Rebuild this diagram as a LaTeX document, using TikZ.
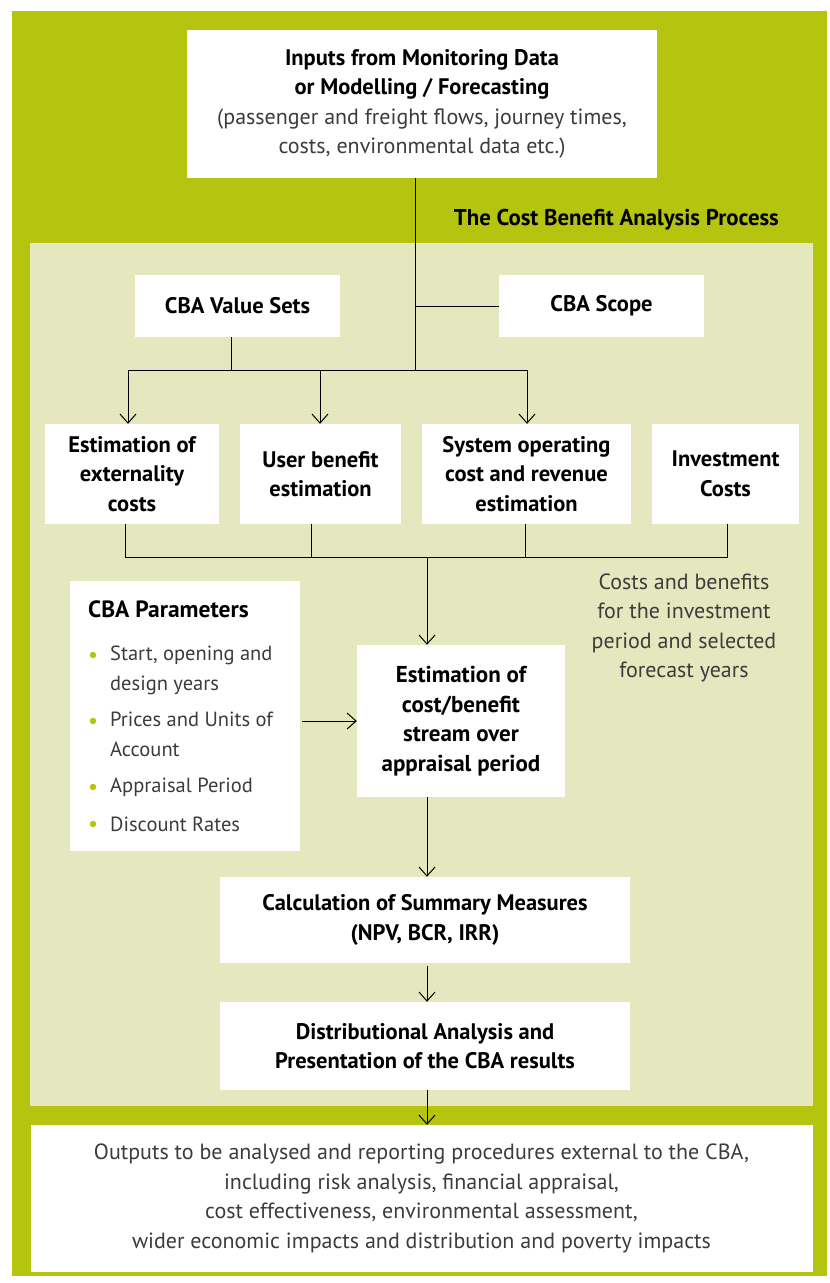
\documentclass[tikz,border=0pt]{standalone}
\usepackage{fontspec}
\setmainfont{PT Sans}
\usetikzlibrary{arrows.meta}
\definecolor{olive}{RGB}{181,196,14}
\definecolor{panel}{RGB}{229,232,190}
\definecolor{softtext}{RGB}{60,60,60}
\begin{document}
\begin{tikzpicture}[x=1pt,y=-1pt,
  box/.style={fill=white, inner sep=0pt, align=center,
    font=\bfseries\fontsize{22.5}{29.5}\selectfont},
  plain/.style={inner sep=0pt, align=center, text=softtext,
    font=\fontsize{22}{29.5}\selectfont},
  itemtext/.style={inner sep=0pt, anchor=west, align=left, text=softtext,
    font=\fontsize{20.5}{29.5}\selectfont},
  bulletdot/.style={circle, fill=olive, inner sep=0pt, minimum size=6.5pt},
  link/.style={draw=black, line width=1pt},
  arr/.style={link, -{Straight Barb[length=9pt,width=16pt,line width=1pt]}}
]
\useasboundingbox (0,0) rectangle (830,1283);
\fill[white] (0,0) rectangle (830,1283);
% frame and process panel
\fill[olive] (12,11) rectangle (827,1276);
\fill[panel] (30,243) rectangle (813,1106);

% inputs
\node[box, minimum width=470, minimum height=148] (inputs) at (422,104)
  {Inputs from Monitoring Data\\or Modelling / Forecasting\\
   {\mdseries\fontsize{22}{29.5}\selectfont\color{softtext}(passenger and freight flows, journey times,}\\
   {\mdseries\fontsize{22}{29.5}\selectfont\color{softtext}costs, environmental data etc.)}};

\node[inner sep=0pt, anchor=east, font=\bfseries\fontsize{22.8}{26}\selectfont]
  (title) at (779,220) {The Cost Benefit Analysis Process};

% value sets and scope
\node[box, minimum width=205, minimum height=62] (vsets) at (237.5,306) {CBA Value Sets};
\node[box, minimum width=205, minimum height=62] (scope) at (601.5,306) {CBA Scope};

% estimation row
\node[box, minimum width=174, minimum height=100] (ext) at (132,474)
  {Estimation of\\externality\\costs};
\node[box, minimum width=161, minimum height=100] (user) at (320.5,474)
  {User benefit\\estimation};
\node[box, minimum width=209, minimum height=100] (sysop) at (526.5,474)
  {System operating\\cost and revenue\\estimation};
\node[box, minimum width=147, minimum height=100] (invest) at (725.5,474)
  {Investment\\Costs};

\node[plain] (note) at (684,628)
  {Costs and benefits\\for the investment\\period and selected\\forecast years};

% parameters
\node[fill=white, inner sep=0pt, minimum width=230, minimum height=270] (params) at (185,716) {};
\node[inner sep=0pt, anchor=west, font=\bfseries\fontsize{23.5}{26}\selectfont]
  (ptitle) at (88,609) {CBA Parameters};
\node[bulletdot] (b1) at (93,655) {};
\node[itemtext, anchor=north west] (i1) at (110,646) {Start, opening and\\design years};
\node[bulletdot] (b2) at (93,721) {};
\node[itemtext, anchor=north west] (i2) at (110,712) {Prices and Units of\\Account};
\node[bulletdot] (b3) at (93,787) {};
\node[itemtext] (i3) at (110,787) {Appraisal Period};
\node[bulletdot] (b4) at (93,824) {};
\node[itemtext] (i4) at (110,824) {Discount Rates};

% stream, measures, distribution, outputs
\node[box, font=\bfseries\fontsize{23}{29.5}\selectfont, minimum width=208, minimum height=152] (est) at (461,721)
  {Estimation of\\cost/benefit\\stream over\\appraisal period};
\node[box, minimum width=410, minimum height=86] (calc) at (425,920)
  {Calculation of Summary Measures\\(NPV, BCR, IRR)};
\node[box, minimum width=410, minimum height=88] (dist) at (425,1046)
  {Distributional Analysis and\\Presentation of the CBA results};
\node[fill=white, plain, minimum width=782, minimum height=147] (out) at (421.5,1198.5)
  {Outputs to be analysed and reporting procedures external to the CBA,\\
   including risk analysis, financial appraisal,\\
   cost effectiveness, environmental assessment,\\
   wider economic impacts and distribution and poverty impacts};

% connectors: upper distribution
\coordinate (trunk) at (415,370);
\coordinate (busL) at (128,370);
\coordinate (busM) at (320,370);
\coordinate (busR) at (527,370);
\draw[link] ([xshift=-7]inputs.south) -- (trunk);
\draw[link] (scope.west) -- (scope.west -| trunk);
\draw[link] ([xshift=-6.5]vsets.south) -- ([xshift=-6.5]vsets.south |- trunk);
\draw[link] (busL) -- (busR);
\draw[arr] (busL) -- (busL |- ext.north);
\draw[arr] (busM) -- (busM |- user.north);
\draw[arr] (busR) -- (busR |- sysop.north);

% connectors: collecting the estimates
\coordinate (lowbus) at (427,557);
\draw[link] ([xshift=-7]ext.south) |- ([xshift=1.5]invest.south |- lowbus) -- ([xshift=1.5]invest.south);
\draw[link] ([xshift=-9.5]user.south) -- ([xshift=-9.5]user.south |- lowbus);
\draw[link] ([xshift=-1.5]sysop.south) -- ([xshift=-1.5]sysop.south |- lowbus);
\draw[arr] (lowbus) -- (lowbus |- est.north);
\draw[arr, shorten <=2pt] (params.east |- est.west) -- (est.west);
\draw[arr] (est.south -| lowbus) -- (calc.north -| lowbus);
\draw[arr, shorten <=3pt] (calc.south -| lowbus) -- (dist.north -| lowbus);
\draw[arr] (dist.south -| lowbus) -- (out.north -| lowbus);
\end{tikzpicture}
\end{document}
